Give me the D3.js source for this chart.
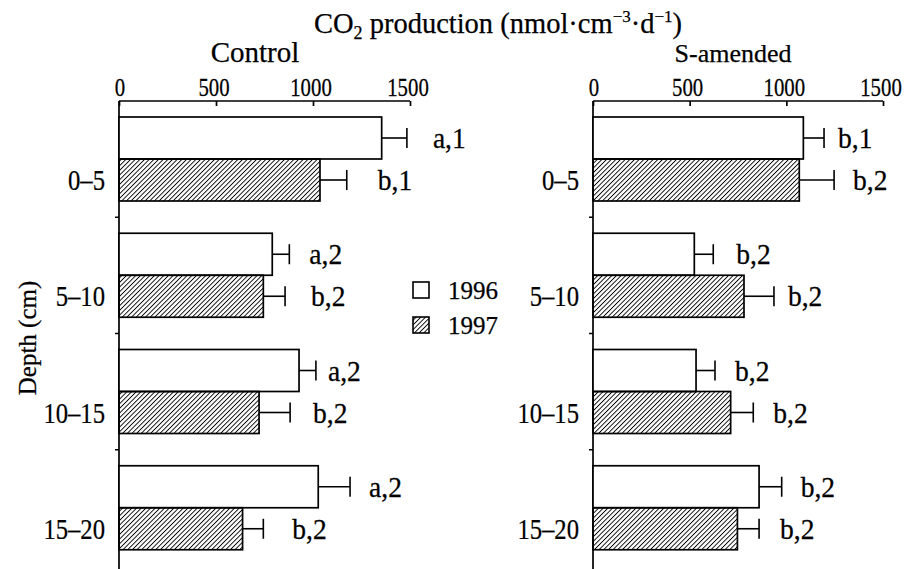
<!DOCTYPE html>
<html>
<head>
<meta charset="utf-8">
<script src="https://cdn.jsdelivr.net/npm/d3@7/dist/d3.min.js"></script>
<style>
  html, body { margin: 0; padding: 0; background: #fff; }
  svg { display: block; }
  text { font-family: "Liberation Serif", "Times New Roman", serif; fill: #000; stroke: #000; stroke-width: 0.25px; }
</style>
</head>
<body>
<svg id="chart" width="910" height="569"></svg>
<script>
// Depth layers and sampling years
const depths = ["0–5", "5–10", "10–15", "15–20"];
const years = ["1996", "1997"];
const xTicks = [0, 500, 1000, 1500];

// CO2 production, Control plots
const control1996 = [1354, 790, 928, 1027];
const control1996Err = [130, 88, 87, 164];
const control1997 = [1036, 744, 722, 637];
const control1997Err = [138, 112, 160, 107];
const controlLetters1996 = ["a,1", "a,2", "a,2", "a,2"];
const controlLetters1997 = ["b,1", "b,2", "b,2", "b,2"];

// CO2 production, S-amended plots
const amended1996 = [1088, 524, 533, 859];
const amended1996Err = [107, 98, 98, 117];
const amended1997 = [1067, 781, 712, 747];
const amended1997Err = [180, 155, 117, 112];
const amendedLetters1996 = ["b,1", "b,2", "b,2", "b,2"];
const amendedLetters1997 = ["b,2", "b,2", "b,2", "b,2"];

const svg = d3.select("#chart");

// diagonal hatch used for the 1997 bars
const defs = svg.append("defs");
defs.append("pattern")
  .attr("id", "hatch")
  .attr("patternUnits", "userSpaceOnUse")
  .attr("width", 3.3).attr("height", 3.3)
  .attr("patternTransform", "rotate(45)")
  .append("line")
  .attr("x1", 0).attr("y1", 0).attr("x2", 0).attr("y2", 3.3)
  .attr("stroke", "#000").attr("stroke-width", 1.8);

// text helper with optional horizontal squeeze (narrow digits)
function label(g, str, x, y, size, anchor, sx) {
  return g.append("text")
    .attr("transform", `translate(${x},${y}) scale(${sx || 1},1)`)
    .attr("text-anchor", anchor || "start")
    .attr("font-size", size)
    .text(str);
}

const yBand = d3.scaleBand().domain(depths).range([101, 566]).padding(0);
const yInner = d3.scaleBand().domain(years).range([16, 100]).padding(0);

function panel(cfg) {
  const g = svg.append("g");
  const x = d3.scaleLinear().domain([0, 1500]).range(cfg.range);
  const x0 = x(0);

  // top value axis
  const ax = g.append("g").attr("transform", "translate(0,101)")
    .call(d3.axisTop(x).tickValues(xTicks).tickSize(-5).tickSizeOuter(0).tickFormat(""));
  ax.select(".domain").attr("stroke-width", 1.7).attr("d", `M${x0},0H${x(1500)}`);
  ax.selectAll(".tick line").attr("stroke-width", 1.7);
  xTicks.forEach(t => label(g, String(t), x(t) - (t === 0 ? -1 : 2), 96, 26, "middle", 0.8));

  // depth axis with short ticks between layers
  g.append("line").attr("x1", x0).attr("x2", x0).attr("y1", 101).attr("y2", 569)
    .attr("stroke", "#000").attr("stroke-width", 1.7);
  depths.slice(1).forEach(d => {
    g.append("line").attr("x1", x0 - 4).attr("x2", x0).attr("y1", yBand(d)).attr("y2", yBand(d))
      .attr("stroke", "#000").attr("stroke-width", 1.5);
  });

  const series = [
    { year: "1996", vals: cfg.v96, err: cfg.e96, lab: cfg.l96, gap: cfg.g96, fill: "#fff" },
    { year: "1997", vals: cfg.v97, err: cfg.e97, lab: cfg.l97, gap: cfg.g97, fill: "url(#hatch)" }
  ];

  series.forEach(s => {
    depths.forEach((d, i) => {
      const y = yBand(d) + yInner(s.year);
      const h = yInner.bandwidth();
      const cy = y + h / 2;
      const xe = x(s.vals[i] + s.err[i]);
      g.append("rect")
        .attr("x", x0).attr("y", y)
        .attr("width", x(s.vals[i]) - x0).attr("height", h)
        .attr("fill", s.fill).attr("stroke", "#000").attr("stroke-width", 1.7);
      g.append("line").attr("x1", x(s.vals[i])).attr("x2", xe).attr("y1", cy).attr("y2", cy)
        .attr("stroke", "#000").attr("stroke-width", 1.6);
      g.append("line").attr("x1", xe).attr("x2", xe).attr("y1", cy - 10).attr("y2", cy + 10)
        .attr("stroke", "#000").attr("stroke-width", 1.6);
      label(g, s.lab[i], xe + s.gap[i], cy + 10, 29, "start", 0.95);
    });
  });

  // depth labels beside the lower bar of each layer
  depths.forEach(d => {
    const cy = yBand(d) + yInner("1997") + yInner.bandwidth() / 2;
    label(g, d, x0 - 14, cy + 10, 29, "end", 0.85);
  });

  label(g, cfg.title, cfg.titleX, 62, cfg.titleSize, "middle");
}

panel({
  range: [119, 410], title: "Control", titleX: 255, titleSize: 29,
  v96: control1996, e96: control1996Err, l96: controlLetters1996, g96: [26, 20, 12, 19],
  v97: control1997, e97: control1997Err, l97: controlLetters1997, g97: [31, 26, 23, 29]
});
panel({
  range: [593, 883], title: "S-amended", titleX: 733, titleSize: 26,
  v96: amended1996, e96: amended1996Err, l96: amendedLetters1996, g96: [14, 23, 20, 19],
  v97: amended1997, e97: amended1997Err, l97: amendedLetters1997, g97: [19, 14, 20, 21]
});

// shared value-axis title
const t = svg.append("text").attr("x", 498).attr("y", 33).attr("text-anchor", "middle").attr("font-size", 28.5);
t.append("tspan").text("CO");
t.append("tspan").attr("font-size", 18).attr("dy", 6).text("2");
t.append("tspan").attr("dy", -6).text(" production (nmol·cm");
t.append("tspan").attr("font-size", 17).attr("dy", -11).text("−3");
t.append("tspan").attr("dy", 11).text("·d");
t.append("tspan").attr("font-size", 17).attr("dy", -11).text("−1");
t.append("tspan").attr("dy", 11).text(")");

// depth axis title
svg.append("text")
  .attr("transform", "translate(36,338) rotate(-90)")
  .attr("text-anchor", "middle").attr("font-size", 25)
  .text("Depth (cm)");

// legend
const legend = svg.append("g");
years.forEach((yr, i) => {
  const ly = 282 + i * 35;
  legend.append("rect").attr("x", 413).attr("y", ly).attr("width", 16).attr("height", 16)
    .attr("fill", i === 0 ? "#fff" : "url(#hatch)").attr("stroke", "#000").attr("stroke-width", 1.6);
  label(legend, yr, 448, ly + 17, 25, "start");
});
</script>
</body>
</html>
